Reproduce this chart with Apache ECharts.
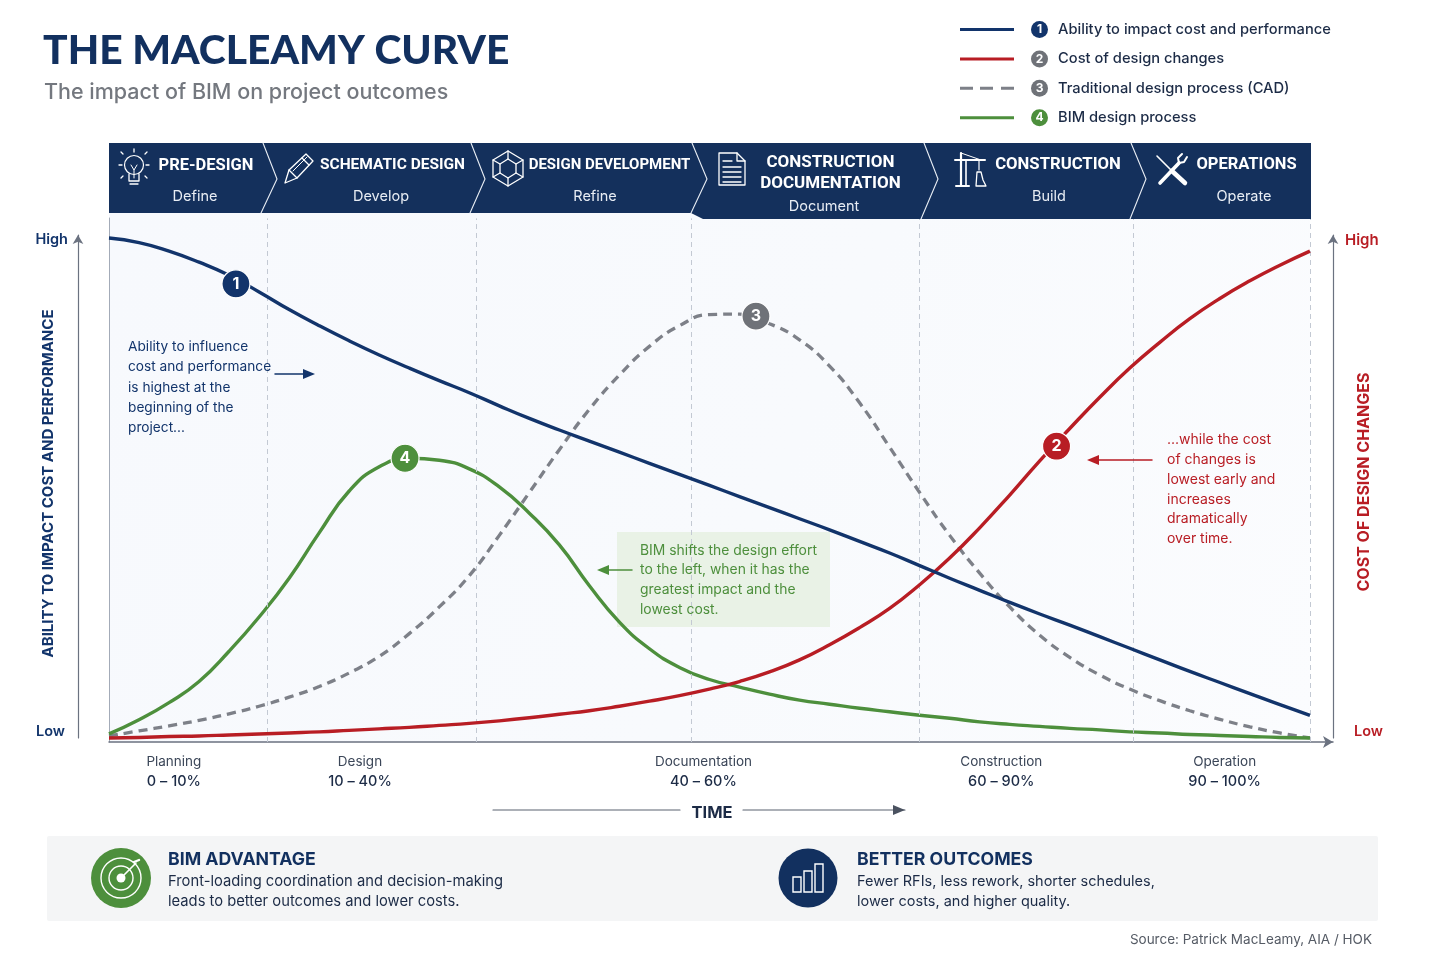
<!DOCTYPE html>
<html><head><meta charset="utf-8">
<style>html,body{margin:0;padding:0;background:#fff}#c{width:1440px;height:960px}</style>
<script src="https://cdn.jsdelivr.net/npm/echarts@6/dist/echarts.min.js"></script>
</head><body><div id="c"></div>
<script>
// ---- data ----
const timePct = [0,2.5,5,7.5,10,12.5,15,17.5,20,22.5,25,27.5,30,32.5,35,37.5,40,42.5,45,47.5,50,52.5,55,57.5,60,62.5,65,67.5,70,72.5,75,77.5,80,82.5,85,87.5,90,92.5,95,97.5,100];
const ability = [100,99.1,97.4,95.2,92.6,89.3,85.8,82.6,79.6,76.8,74.2,71.7,69.3,66.7,64.2,61.9,59.7,57.5,55.3,53.1,50.9,48.7,46.5,44.3,42.1,39.8,37.5,35,32.5,30.1,27.7,25.4,23.2,20.9,18.6,16.3,14,11.8,9.6,7.4,5.3];
const costChg = [0.8,0.9,1.1,1.2,1.4,1.6,1.8,2,2.3,2.6,2.9,3.3,3.7,4.2,4.8,5.5,6.2,7.1,8.1,9.2,10.5,12,13.9,16.3,19.3,22.7,26.5,31.2,36.5,42.5,49,55.8,62.2,68.4,74.2,79.3,84,88,91.5,94.6,97.4];
const cadProc = [1.2,2.2,3.2,4.3,5.6,7.1,8.9,11,13.7,17,21.5,26.8,33,41,49.5,58,66,72.8,78.5,82.6,84.8,84.9,83,79.8,74.6,67.3,58.5,49.5,41,33.5,26.8,21.2,16.8,13.3,10.5,8.2,6.2,4.5,3,1.8,0.8];
const bimProc = [1.6,4.4,7.8,12,18,24.8,32.5,41.5,49.8,54.6,56.3,55.9,54.2,50.6,45.4,39.1,31,23.8,18.5,14.8,12.4,10.9,9.5,8.3,7.5,6.7,6,5.3,4.7,4,3.5,3.1,2.7,2.4,2,1.8,1.5,1.3,1.1,0.9,0.8];
const seriesNames = ['Ability to impact cost and performance','Cost of design changes','Traditional design process (CAD)','BIM design process'];
const badgeX = [10.57,78.9,53.87,24.65];
const badgeY = [90.9,58.7,84.5,56.3];
const phaseBoundaries = [13.2,30.6,48.5,67.5,85.3,100];
const stageNames = ['Planning','Design','Documentation','Construction','Operation'];
const stageRanges = ['0 – 10%','10 – 40%','40 – 60%','60 – 90%','90 – 100%'];
const stagePos = [5.4,20.9,49.5,74.3,92.9];

const NAVY='#12346b', RED='#b81d24', GREY='#7d8088', GREEN='#4d8f3c', HEAD='#14305c', INK='#1c2b46';
const FONT='Inter', HFONT='Roboto';
const colors=[NAVY,RED,GREY,GREEN], badgeColors=[NAVY,RED,'#6f7278',GREEN];
const legendBadge=[NAVY,'#6f7278','#6f7278',GREEN];
const legendIcons=['path://M0 0H54V3H0Z','path://M0 0H54V3H0Z','path://M0 0H13V3H0ZM20 0H33V3H20ZM41 0H54V3H41Z','path://M0 0H54V3H0Z'];

function zip(ys){return timePct.map((x,i)=>[x,ys[i]]);}
const curve=(i,ys,extra)=>Object.assign({name:seriesNames[i],type:'line',data:zip(ys),xAxisIndex:0,yAxisIndex:0,smooth:0.5,
  showSymbol:false,symbol:'none',lineStyle:{color:colors[i],width:3.4},itemStyle:{color:colors[i]},z:4},extra||{});

// graphic helpers
const txt=(x,y,text,size,color,weight,align,font,z)=>({type:'text',x,y,z:z||8,style:{text,fontSize:size,fill:color,fontWeight:weight||400,fontFamily:font||FONT,align:align||'left',verticalAlign:'middle'}});
const pl=(pts,c,w,z)=>({type:'polyline',z:z||12,shape:{points:pts},style:{stroke:c||'#fff',fill:null,lineWidth:w||1.3,lineJoin:'round',lineCap:'round'}});
const circ=(x,y,r,c,w,fill,z)=>({type:'circle',z:z||12,shape:{cx:x,cy:y,r},style:{stroke:c||null,lineWidth:w||1.3,fill:fill||null}});
const box=(x,y,w,h,c,lw,fill,z,r)=>({type:'rect',z:z||12,shape:{x,y,width:w,height:h,r:r||0},style:{stroke:c||null,lineWidth:lw||1.3,fill:fill||null}});
const arrow=(x1,x2,y,c,w)=>{const d=x2>x1?1:-1,h=x2-d*12;return [pl([[x1,y],[h,y]],c,w||1.5,8),{type:'polygon',z:8,shape:{points:[[x2,y],[h,y-5],[h,y+5]]},style:{fill:c}}];};
const multi=(x,y,lines,size,color,step,weight)=>lines.map((l,i)=>txt(x,y+i*step,l,size,color,weight||400));

const g=[];
// plot panel
g.push({type:'rect',z:0,shape:{x:109,y:213,width:1201,height:529},style:{fill:{type:'linear',x:0,y:0,x2:1,y2:1,colorStops:[{offset:0,color:'#f7f9fd'},{offset:0.55,color:'#f8fafd'},{offset:1,color:'#fbfcfe'}]}}});
// title
g.push(txt(43,51,'THE MACLEAMY CURVE',40.8,'#12305f',900,'left','Lato'));
g.push(txt(44,92.5,'The impact of BIM on project outcomes',21.5,'#74787f',500));
// header band
g.push({type:'polygon',z:10,shape:{points:[[109,143],[1311,143],[1311,219],[703,219],[691,213],[109,213]]},style:{fill:HEAD}});
[[263,277,261,213],[471,485,470,213],[692,707,691,213],[924,938,921,219],[1131,1146,1130,219]].forEach(s=>g.push(pl([[s[0],143],[s[1],179],[s[2],s[3]]],'#e8edf4',1.1)));
const H=(x,y,t,fs)=>txt(x,y,t,fs||16.5,'#fff',700,'center',HFONT,12), S=(x,y,t)=>txt(x,y,t,14.5,'#e8edf4',400,'center',FONT,12);
g.push(H(206,165.5,'PRE-DESIGN'),S(195,196.5,'Define'),H(392.5,165.5,'SCHEMATIC DESIGN',15.5),S(381,196.5,'Develop'),H(609.5,165.5,'DESIGN DEVELOPMENT',15),S(595,196.5,'Refine'),
  H(830.5,162.5,'CONSTRUCTION',17),H(830.5,183.5,'DOCUMENTATION',17),S(824,206.5,'Document'),H(1058,165,'CONSTRUCTION',16.7),S(1049,196.5,'Build'),H(1246.5,165,'OPERATIONS'),S(1244,196.5,'Operate'));
// bulb
g.push(circ(134,165,9.5,'#fff',1.2),pl([[129,174],[129,181],[139,181],[139,174]]),pl([[130,184],[138,184]]),pl([[131,165],[134,170],[137,165]],'#fff',1),pl([[134,170],[134,178]],'#fff',1),
  pl([[134,152],[134,149]]),pl([[123,154],[121,152]]),pl([[145,154],[147,152]]),pl([[119,165],[122,165]]),pl([[146,165],[149,165]]),pl([[123,176],[121,178]]),pl([[145,176],[147,178]]));
// pencil
g.push(pl([[285,183],[289,170],[306,154],[313,161],[297,178],[285,183]]),pl([[289,170],[297,178]]),pl([[302,158],[309,165]]),pl([[293,171],[307,157]],'#fff',1));
// cube
g.push(pl([[508,151],[523,160],[523,177],[508,186],[493,177],[493,160],[508,151]]),pl([[508,159],[516,164],[516,173],[508,178],[500,173],[500,164],[508,159]]),
  pl([[493,160],[500,164]]),pl([[523,160],[516,164]]),pl([[493,177],[500,173]]),pl([[523,177],[516,173]]),pl([[508,151],[508,159]]),pl([[508,186],[508,178]]));
// document
g.push(pl([[719,153],[737,153],[745,161],[745,185],[719,185],[719,153]]),pl([[737,153],[737,161],[745,161]]),pl([[723,161],[732,161]]),pl([[723,167],[741,167]]),pl([[723,172],[741,172]]),pl([[723,177],[741,177]]),pl([[723,182],[741,182]]));
// crane
g.push(pl([[955,160],[985,160]],'#fff',2),pl([[961,153],[961,186]],'#fff',2.2),pl([[966,160],[966,186]],'#fff',1.6),pl([[956,186],[969,186]],'#fff',2),pl([[961,153],[981,160]],'#fff',1),pl([[979,160],[979,170]],'#fff',1.2),
  pl([[976,186],[977,172],[981,172],[983,180],[986,186],[976,186]],'#fff',1.3));
// tools
g.push(pl([[1160,183],[1179,163]],'#fff',3.6),pl([[1187,157],[1184,162],[1179,163],[1178,158],[1182,154]],'#fff',2),pl([[1157,156],[1172,171]],'#fff',1.6),pl([[1172,171],[1185,183]],'#fff',4.5));
// annotations
g.push(...multi(128,347,['Ability to influence','cost and performance','is highest at the','beginning of the','project...'],13.7,NAVY,20.2));
g.push(...arrow(275,315,374,NAVY));
g.push(...multi(1167,440,['...while the cost','of changes is','lowest early and','increases','dramatically','over time.'],14,RED,19.8));
g.push(...arrow(1152,1087,460,RED));
g.push({type:'rect',z:1,shape:{x:617,y:532,width:213,height:95},style:{fill:'#e9f2e6'}});
g.push(...multi(640,550.5,['BIM shifts the design effort','to the left, when it has the','greatest impact and the','lowest cost.'],13.9,GREEN,19.8));
g.push(...arrow(632,597,570,GREEN));
// time
g.push(pl([[493,810],[680,810]],'#5a6270',1.2,8),pl([[743,810],[905,810]],'#5a6270',1.2,8),{type:'polygon',z:8,shape:{points:[[905,810],[893,805],[893,815]]},style:{fill:'#4a5260'}},txt(712,813.5,'TIME',16.5,INK,700,'center'));
// bottom band
g.push(box(47,836,1331,85,null,0,'#f4f5f6',1,2));
g.push(circ(121,878,30,null,0,GREEN,3),circ(121,878,20,'#fff',1.4,null,4),circ(121,878,12,'#fff',1.4,null,4),circ(121,878,4.5,null,0,'#fff',4),pl([[121,878],[136,863]],'#fff',1.6,4),pl([[134,862],[139,860]],'#fff',2.4,4));
g.push(txt(168,859.5,'BIM ADVANTAGE',17.7,'#12305f',700),txt(168,881.5,'Front-loading coordination and decision-making',14.75,INK),txt(168,901.5,'leads to better outcomes and lower costs.',14.75,INK));
g.push(circ(808,878,29.5,null,0,'#12305f',3),box(793,877,8,15,'#fff',1.4,null,4),box(804,871,8,21,'#fff',1.4,null,4),box(815,864,8,28,'#fff',1.4,null,4));
g.push(txt(857,859.5,'BETTER OUTCOMES',17.7,'#12305f',700),txt(857,881.5,'Fewer RFIs, less rework, shorter schedules,',14.5,INK),txt(857,901.5,'lower costs, and higher quality.',14.5,INK));
g.push(txt(1372,940,'Source: Patrick MacLeamy, AIA / HOK',13.5,'#555b65',400,'right'));

const sideAxisLine={show:true,onZero:false,lineStyle:{color:'#6b7280',width:1.2},symbol:['none','arrow'],symbolSize:[8,9]};
const option={
  backgroundColor:'#fff',animation:false,textStyle:{fontFamily:FONT},
  legend:{orient:'vertical',left:955,top:16,itemWidth:54,itemHeight:3,itemGap:12.4,padding:5,selectedMode:false,
    data:seriesNames.map((n,i)=>({name:n,icon:legendIcons[i]})),
    formatter:n=>{const i=seriesNames.indexOf(n);return `{s| }{b${i}|${i+1}}{t|${n}}`;},
    textStyle:{rich:Object.assign({s:{width:12,height:17},t:{fontSize:14.7,fontWeight:500,color:INK,padding:[0,0,0,10],fontFamily:FONT,height:18}},
      Object.fromEntries(legendBadge.map((c,i)=>['b'+i,{width:17,height:17,borderRadius:9,backgroundColor:c,color:'#fff',align:'center',fontSize:12,fontWeight:700,fontFamily:FONT}])))}},
  grid:[{left:109,right:107,top:218,bottom:218},{left:109,right:107,top:235,bottom:222}],
  xAxis:[{type:'value',gridIndex:0,min:0,max:101.92,splitLine:{show:false},axisTick:{show:false},
      axisLine:{show:true,onZero:false,lineStyle:{color:'#6b7280',width:1.5},symbol:['none','arrow'],symbolSize:[9,10]},
      axisLabel:{show:true,customValues:stagePos,margin:10,interval:0,hideOverlap:false,showMinLabel:true,showMaxLabel:true,
        formatter:v=>{const i=stagePos.indexOf(v);return `{n|${stageNames[i]}}\n{r|${stageRanges[i]}}`;},
        rich:{n:{fontSize:13.5,color:'#3b4658',lineHeight:20,fontFamily:FONT,align:'center'},r:{fontSize:14.5,color:INK,fontWeight:500,lineHeight:20,fontFamily:FONT,align:'center'}}}},
    {type:'value',gridIndex:1,min:0,max:100,show:false}],
  yAxis:[{type:'value',gridIndex:0,min:0,max:103.97,splitLine:{show:false},axisTick:{show:false},axisLabel:{show:false},axisLine:{show:true,onZero:false,lineStyle:{color:'#a3abb8',width:1}}},
    {type:'value',gridIndex:1,position:'left',offset:31,min:0,max:100,splitLine:{show:false},axisTick:{show:false},
      axisLine:sideAxisLine,
      name:'ABILITY TO IMPACT COST AND PERFORMANCE',nameLocation:'middle',nameGap:22,nameRotate:90,nameMoveOverlap:false,nameTextStyle:{color:NAVY,fontSize:15,fontWeight:700,fontFamily:FONT,padding:[0,0,0,6]},
      axisLabel:{customValues:[1.2,99],margin:10,formatter:v=>v>50?'{h|High}':'{l|Low}',rich:{h:{fontSize:14.5,fontWeight:600,color:NAVY,fontFamily:FONT},l:{fontSize:14.5,fontWeight:600,color:NAVY,padding:[0,3,0,0],fontFamily:FONT}}}},
    {type:'value',gridIndex:1,position:'right',offset:0,min:0,max:100,splitLine:{show:false},axisTick:{show:false},
      axisLine:sideAxisLine,
      name:'COST OF DESIGN CHANGES',nameLocation:'middle',nameGap:23,nameRotate:90,nameMoveOverlap:false,nameTextStyle:{color:RED,fontSize:16,fontWeight:700,fontFamily:FONT,padding:[0,0,0,9]},
      axisLabel:{customValues:[1.2,99],margin:12,formatter:v=>v>50?'{h|High}':'{l|Low}',rich:{h:{fontSize:15,fontWeight:600,color:RED,fontFamily:FONT},l:{fontSize:14.5,fontWeight:600,color:RED,padding:[0,0,0,9],fontFamily:FONT}}}}],
  series:[
    curve(0,ability,{markLine:{silent:true,symbol:'none',label:{show:false},animation:false,lineStyle:{color:'#c3c9d3',type:[5,4],width:1},
      data:phaseBoundaries.map(x=>[{coord:[x,0]},{coord:[x,103.9]}])},z:6}),
    curve(1,costChg,{z:5}),
    curve(2,cadProc,{lineStyle:{color:GREY,width:3.3,type:[9,6]},z:3}),
    curve(3,bimProc,{z:4}),
    {type:'scatter',name:'badges',xAxisIndex:0,yAxisIndex:0,symbolSize:28,z:9,
      data:badgeX.map((x,i)=>({value:[x,badgeY[i]],itemStyle:{color:badgeColors[i],opacity:1,borderColor:'#fff',borderWidth:1.2},label:{show:true,position:'inside',formatter:String(i+1),color:'#fff',fontSize:16,fontWeight:700,fontFamily:FONT}}))}
  ],
  graphic:{elements:g}
};
echarts.init(document.getElementById('c'),null,{renderer:'canvas'}).setOption(option);
</script></body></html>
